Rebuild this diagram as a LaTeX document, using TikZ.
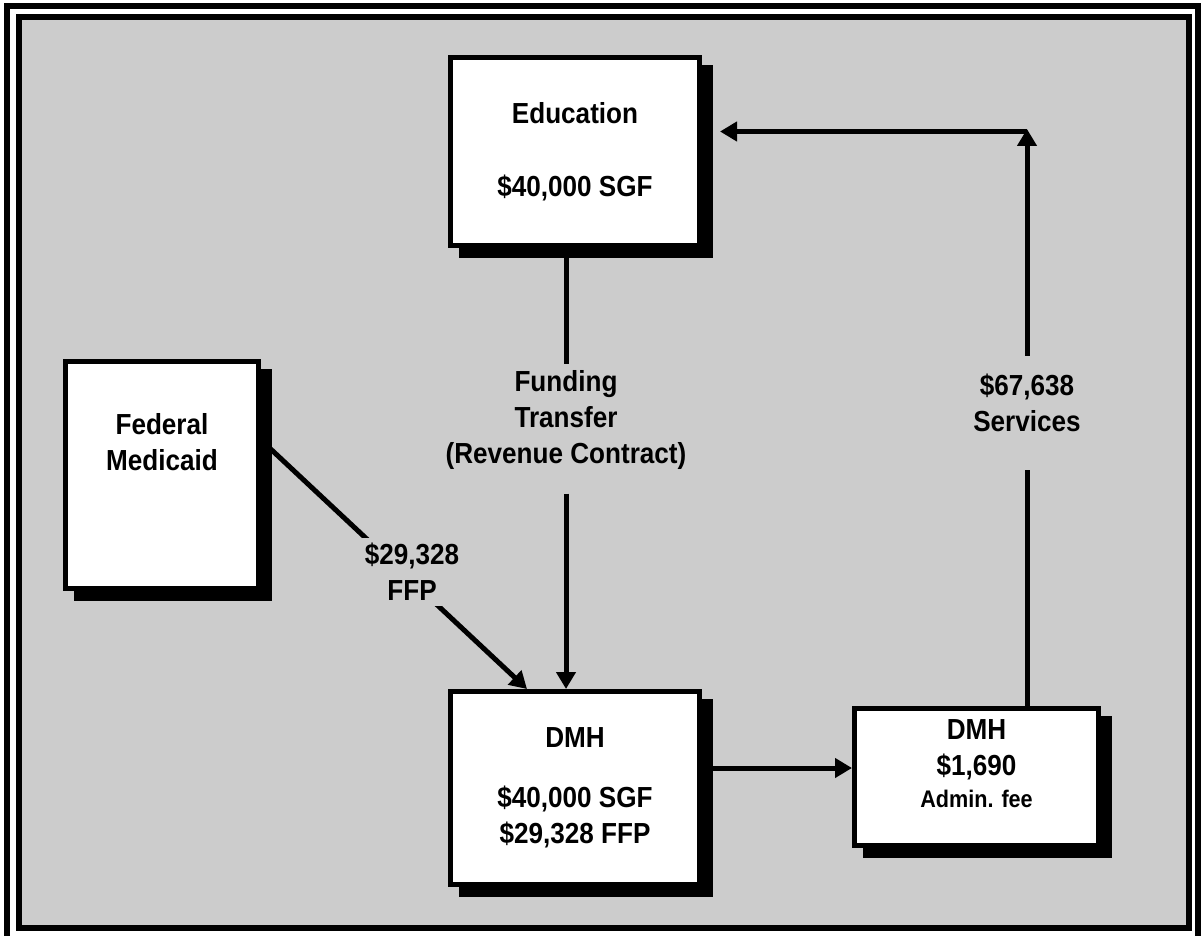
\documentclass[tikz,border=0pt]{standalone}
\usepackage{fontspec}
\setmainfont{Liberation Sans}[FakeStretch=0.9]
\usetikzlibrary{arrows.meta}
\usetikzlibrary{calc}
\usetikzlibrary{backgrounds}
\definecolor{panel}{HTML}{CCCCCC}

\begin{document}
\begin{tikzpicture}[x=1pt, y=-1pt,
    font=\bfseries\fontsize{29}{36}\selectfont,
    box/.style={draw, line width=5pt, fill=white, inner sep=0pt},
    flow/.style={line width=5pt, -{Triangle[length=17pt,width=19pt]}},
    wire/.style={line width=5pt},
    tag/.style={align=center, inner sep=0pt}]
    \useasboundingbox (0,0) rectangle (1201,936);

    \node[box, minimum width=249pt, minimum height=188pt, align=center] (edu) at (575,151.5) {Education\\[37pt]\$40,000 SGF};
    \node[box, minimum width=193pt, minimum height=227pt] (fed) at (162,475) {};
    \node[tag] (fedtext) at (162,442) {Federal\\Medicaid};
    \node[box, minimum width=249pt, minimum height=193pt, align=center] (dmh) at (575,788) {DMH\\[24pt]\$40,000 SGF\\\$29,328 FFP};
    \node[box, minimum width=244pt, minimum height=137pt] (dmhb) at (976.5,777) {};
    \node[tag] (dmhbtext) at (976.5,764) {DMH\\\$1,690\\[-4pt]{\fontsize{24}{30}\selectfont Admin. fee}};

    \node[tag] (fund) at (566,420) {Funding\\Transfer\\(Revenue Contract)};
    \draw[wire] (fund.north |- edu.south) -- ($(fund.north)+(0,-6)$);
    \draw[flow] ($(fund.south)+(0,24)$) -- (fund.south |- dmh.north);

    \draw[flow] ($(fed.east)+(0,-35)$) -- ($(dmh.north west)+(79,0)$);
    \node[tag, fill=panel, inner sep=5pt] (ffp) at (412,572) {\$29,328\\FFP};

    \coordinate (mid) at ($(dmhb.west)+(0,-9)$);
    \draw[flow] (dmh.east |- mid) -- (mid);

    \coordinate (ret) at (1027,131.5);
    \node[tag] (svc) at (1027,403) {\$67,638\\Services};
    \draw[wire] (dmhb.north -| ret) -- ($(svc.south)+(0,38)$);
    \draw[flow] ($(svc.north)+(0,-18)$) -- ($(ret)+(0,-2.5)$);
    \draw[flow] (ret) -- ($(edu.east |- ret)+(18,0)$);

    \begin{scope}[on background layer]
        \fill[panel] (19,17) rectangle (1189,928);
        \draw[line width=6pt] (19,17) rectangle (1189,928);
        \draw[line width=6pt] (7,945) -- (7,6) -- (1198,6) -- (1198,945);
        \foreach \b in {edu,fed,dmh,dmhb}
            \fill ([shift={(11,10)}]\b.north west) rectangle ([shift={(11,10)}]\b.south east);
    \end{scope}
\end{tikzpicture}
\end{document}
